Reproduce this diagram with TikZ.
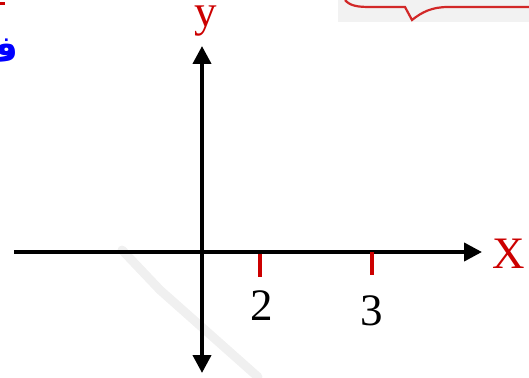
\documentclass[tikz,border=0pt]{standalone}
\usepackage{fontspec}
\setmainfont{Liberation Serif}
\newfontfamily\arabicfont[Script=Arabic]{DejaVu Sans}
\TeXXeTstate=1
\usetikzlibrary{arrows.meta, positioning}
\definecolor{labelred}{RGB}{204, 0, 0}
\definecolor{arabicblue}{RGB}{0, 0, 255}
\definecolor{bubblegray}{RGB}{242, 242, 242}
\definecolor{bubblered}{RGB}{210, 40, 40}
\tikzset{
	axisline/.style={line width=4pt, color=black},
	axishead/.style={-{Triangle[length=18pt, width=18pt]}},
	ticklabel/.style={font=\fontsize{45}{45}\selectfont, inner sep=0pt},
	axislabel/.style={font=\fontsize{45}{45}\selectfont, text=labelred, inner sep=0pt},
	tickmark/.style={line width=4pt, color=labelred}
}
\begin{document}
\begin{tikzpicture}[x=1pt, y=-1pt]
		\useasboundingbox (0,0) rectangle (529,377);
		
		% Page fragments
		\fill[bubblegray] (338,0) rectangle (529,22);
		\draw[bubblered, line width=2.2pt] (345,0) .. controls (350,6) and (358,7) .. (370,7)
			-- (405,7) -- (412,20) .. controls (422,12) and (432,7) .. (448,7) -- (529,7);
		\fill[labelred] (0,2) rectangle (5,5);
		\node (farabic) [text=arabicblue, inner sep=0pt, anchor=east] at (19,51)
			{\fontsize{36}{36}\selectfont\arabicfont\bfseries\beginR ف\endR};
		\draw[black!6, line width=9pt, line cap=round] (122,250) -- (160,290) -- (258,377);
		
		% Axes
		\coordinate (O) at (202,252);
		\coordinate (xleft) at (14,252);
		\coordinate (xright) at (482,252);
		\coordinate (ytop) at (202,46);
		\coordinate (ybottom) at (202,373);
		\draw[axisline, axishead] (xleft) -- (xright);
		\draw[axisline, {Triangle[length=18pt, width=18pt]}-{Triangle[length=18pt, width=18pt]}] (ybottom) -- (ytop);
		
		% Labels
		\node (X) [axislabel] at (509,254) {X};
		\node (Y) [axislabel] at (206,21) {y};
		
		% Ticks
		\coordinate (t2) at (260,254);
		\coordinate (t3) at (372,252);
		\draw[tickmark] (t2) -- ++(0,23);
		\draw[tickmark] (t3) -- ++(0,23);
		\node (two) [ticklabel] at (262,306) {2};
		\node (three) [ticklabel] at (372,311) {3};
		
\end{tikzpicture}
\end{document}
